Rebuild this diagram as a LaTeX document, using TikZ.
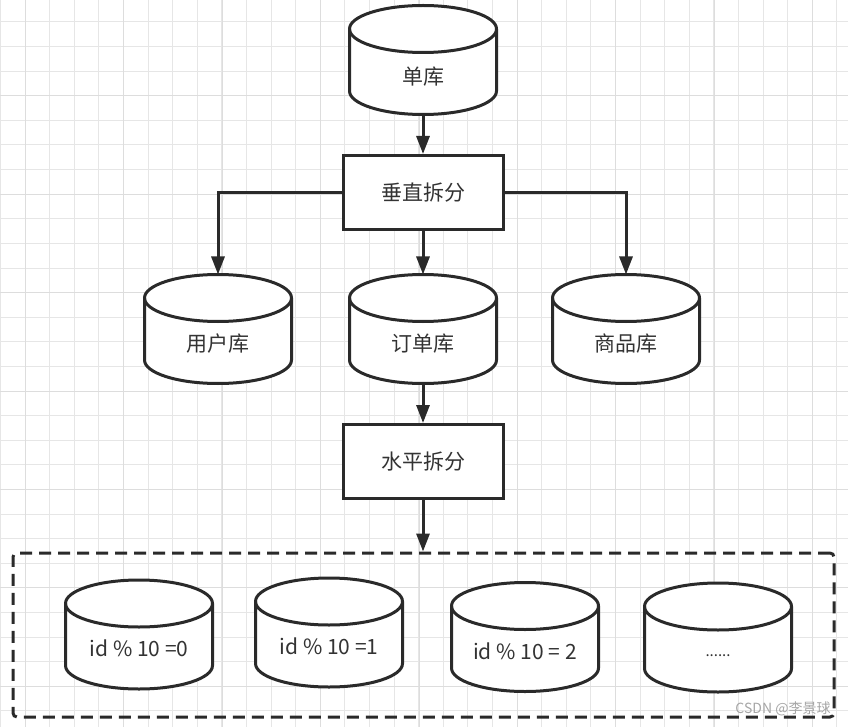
\documentclass[tikz,border=0pt]{standalone}
\usepackage{fontspec}
\setmainfont{Noto Sans CJK SC}
\usetikzlibrary{arrows.meta}
\definecolor{ink}{HTML}{2A2A2A}
\definecolor{txt}{HTML}{333333}
\definecolor{gridminor}{HTML}{E6E6E6}
\definecolor{gridmajor}{HTML}{DDDDDD}
\newcommand\dbshape[1]{%
  \path[outl, fill=white] ([yshift=-23.5pt]#1.north west) -- ([yshift=23.5pt]#1.south west)
    arc[start angle=180,end angle=360,x radius=73.5pt,y radius=23.5pt]
    -- ([yshift=-23.5pt]#1.north east)
    arc[start angle=0,end angle=180,x radius=73.5pt,y radius=23.5pt] -- cycle;
  \draw[outl] ([yshift=-23.5pt]#1.north east) arc[start angle=360,end angle=180,x radius=73.5pt,y radius=23.5pt];
}
\begin{document}
\begin{tikzpicture}[x=1pt,y=1pt,
  outl/.style={draw=ink, line width=3pt},
  dbbox/.style={minimum width=147pt, minimum height=109pt, inner sep=0pt, outer sep=0pt},
  lbl/.style={font=\fontsize{21}{25}\selectfont, text=txt, inner sep=0pt},
  procbox/.style={draw=ink, line width=3pt, fill=white, minimum width=160pt, minimum height=74pt, inner sep=0pt, font=\fontsize{21}{25}\selectfont, text=txt},
  dashbox/.style={draw=ink, line width=3pt, dash pattern=on 12pt off 7pt, rounded corners=4pt, minimum width=821pt, minimum height=164pt, inner sep=0pt},
  conn/.style={draw=ink, line width=3pt, -{Triangle[length=18pt,width=13pt]}},
  gminor/.style={draw=gridminor, line width=1pt},
  gmajor/.style={draw=gridmajor, line width=1pt}
]
\useasboundingbox (0,0) rectangle (848,-727);
\fill[white] (0,0) rectangle (848,-727);
% grid
\foreach \i in {0,...,34} {\draw[gminor] ({0.5+24.6*\i},0) -- ({0.5+24.6*\i},-727);}
\foreach \i in {0,...,29} {\draw[gminor] (0,{-22-24.6*\i}) -- (848,{-22-24.6*\i});}
\foreach \i in {0,...,8} {\draw[gmajor] ({25.4+98.4*\i},0) -- ({25.4+98.4*\i},-727);}
\foreach \i in {0,...,7} {\draw[gmajor] (0,{-95.8-98.4*\i}) -- (848,{-95.8-98.4*\i});}

% top database
\node[dbbox] (single) at (423,-60) {};
\dbshape{single}
\node[lbl] at ([yshift=-17pt]single.center) {单库};

% vertical split box
\node[procbox] (vsplit) at (423,-192.5) {垂直拆分};

% second row databases
\node[dbbox] (user) at (218,-329) {};
\dbshape{user}
\node[lbl] at ([yshift=-15pt]user.center) {用户库};
\node[dbbox] (order) at (423,-329) {};
\dbshape{order}
\node[lbl] at ([yshift=-15pt]order.center) {订单库};
\node[dbbox] (goods) at (626,-329) {};
\dbshape{goods}
\node[lbl] at ([yshift=-15pt]goods.center) {商品库};

% horizontal split box
\node[procbox] (hsplit) at (423,-461.5) {水平拆分};

% dashed group
\node[dashbox] (grp) at (423.5,-635) {};

\node[dbbox] (s0) at (139,-634.5) {};
\dbshape{s0}
\node[lbl] at ([yshift=-14pt]s0.center) {id \% 10 =0};
\node[dbbox] (s1) at (329,-632.5) {};
\dbshape{s1}
\node[lbl] at ([yshift=-14pt]s1.center) {id \% 10 =1};
\node[dbbox] (s2) at (525,-637) {};
\dbshape{s2}
\node[lbl] at ([yshift=-14pt]s2.center) {id \% 10 = 2};
\node[dbbox] (s3) at (718,-637.5) {};
\dbshape{s3}
\node[lbl, font=\fontsize{15}{18}\selectfont] at ([yshift=-18pt]s3.center) {......};

% connectors
\draw[conn] (single.south) -- (vsplit.north);
\draw[conn] (vsplit.west) -| (user.north);
\draw[conn] (vsplit.east) -| (goods.north);
\draw[conn] (vsplit.south) -- (order.north);
\draw[conn] (order.south) -- (hsplit.north);
\draw[conn] (hsplit.south) -- (hsplit.south |- grp.north);

% watermark
\node[font=\fontsize{14}{16}\selectfont, text=gray!70, inner sep=0pt] (wm) at (783,-709) {CSDN @李景球};
\end{tikzpicture}
\end{document}
